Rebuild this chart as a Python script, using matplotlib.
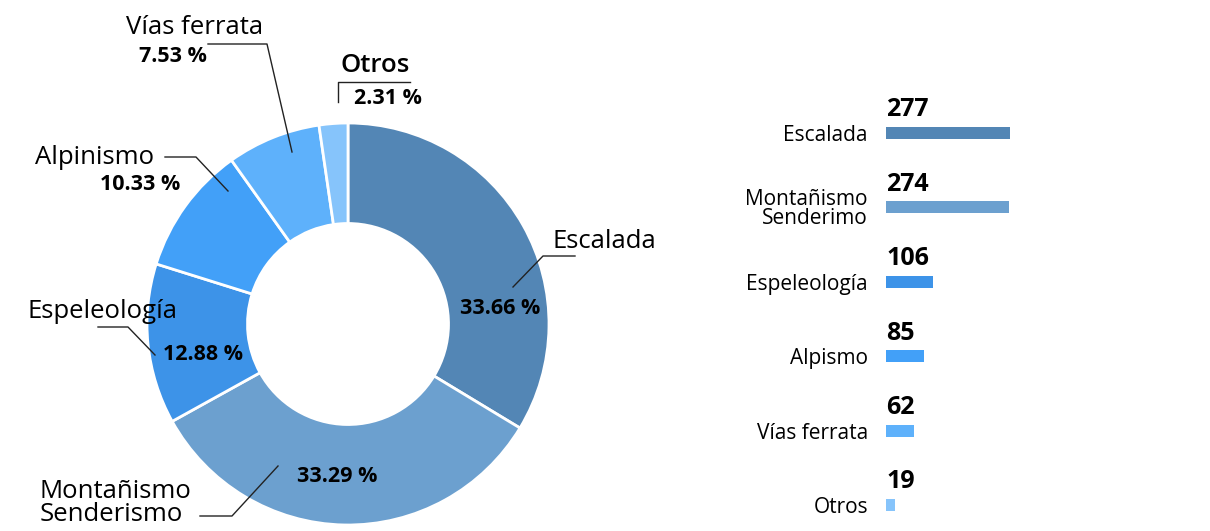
import matplotlib.pyplot as plt
import numpy as np

plt.rcParams['font.family'] = ['Open Sans', 'DejaVu Sans']

# datos
categorias = ['Escalada', 'Montañismo\nSenderismo', 'Espeleología', 'Alpinismo', 'Vías ferrata', 'Otros']
barra_labels = ['Escalada', 'Montañismo\nSenderimo', 'Espeleología', 'Alpismo', 'Vías ferrata', 'Otros']
valores = [277, 274, 106, 85, 62, 19]
colores = ['#5386b5', '#6ca0cf', '#3d93e8', '#42a0f8', '#5eb1fb', '#86c4fb']

fig = plt.figure(figsize=(12.1, 5.31), dpi=100)

# ---- donut ----
cx, cy, R = 348, 324, 201  # pixel centre / radius of the donut
ax = fig.add_axes([(cx - R) / 1210, (531 - cy - R) / 531, 2 * R / 1210, 2 * R / 531])
ax.pie(valores, colors=colores, startangle=90, counterclock=False, radius=1,
       wedgeprops=dict(width=0.5, edgecolor='white', linewidth=2))
ax.set_xlim(-1, 1)
ax.set_ylim(-1, 1)
ax.axis('off')

def px(x, y):
    return ((x - cx) / R, (cy - y) / R)

total = sum(valores)
pct = [v / total * 100 for v in valores]

# label positions (pixels): name xy, ha, percent xy, leader line
etiquetas = [
    ((604, 241), 'center', (500, 308), [(575, 256), (543, 256), (513, 287)]),
    ((40, 503), 'left', (337, 476), [(200, 516), (232, 516), (278, 466)]),
    ((102, 311), 'center', (203, 354), [(98, 327), (128, 327), (155, 355)]),
    ((95, 157), 'center', (140, 184), [(165, 157), (196, 157), (228, 191)]),
    ((195, 27), 'center', (173, 57), [(208, 44), (267, 44), (292, 152)]),
    ((375, 66), 'center', (388, 99), [(410, 82), (338, 82), (338, 102)]),
]

for i, (nxy, ha, pxy, linea) in enumerate(etiquetas):
    w = 'semibold' if categorias[i] == 'Otros' else 'medium'
    ax.text(*px(*nxy), categorias[i], ha=ha, va='center', fontsize=18.5,
            fontweight=w, color='black', linespacing=0.9, clip_on=False)
    ax.text(*px(*pxy), f'{pct[i]:.2f} %', ha='center', va='center',
            fontsize=15.5, fontweight='bold', color='black', clip_on=False)
    lx, ly = zip(*[px(a, b) for a, b in linea])
    ax.plot(lx, ly, color='#222222', lw=1, clip_on=False)

# ---- barras ----
escala = 124 / 277  # px per unit
bx = fig.add_axes([886 / 1210, 0, 150 / 1210, 441 / 531])
paso = 74.4
y = np.arange(len(valores))
bx.barh(y, valores, height=12 / paso, color=colores)
bx.set_xlim(0, 150 / escala)
bx.set_ylim((531 - 133) / paso, (90 - 133) / paso)
for i, v in enumerate(valores):
    bx.text(0, i - 23 / paso, str(v), ha='left', va='center', fontsize=18,
            fontweight='bold', color='black')
bx.set_yticks(y)
bx.set_yticklabels(barra_labels, fontsize=15, fontweight='medium', linespacing=0.9)
bx.tick_params(axis='y', length=0, pad=13)
bx.set_xticks([])
for s in bx.spines.values():
    s.set_visible(False)

fig.savefig('out.png', dpi=100)
